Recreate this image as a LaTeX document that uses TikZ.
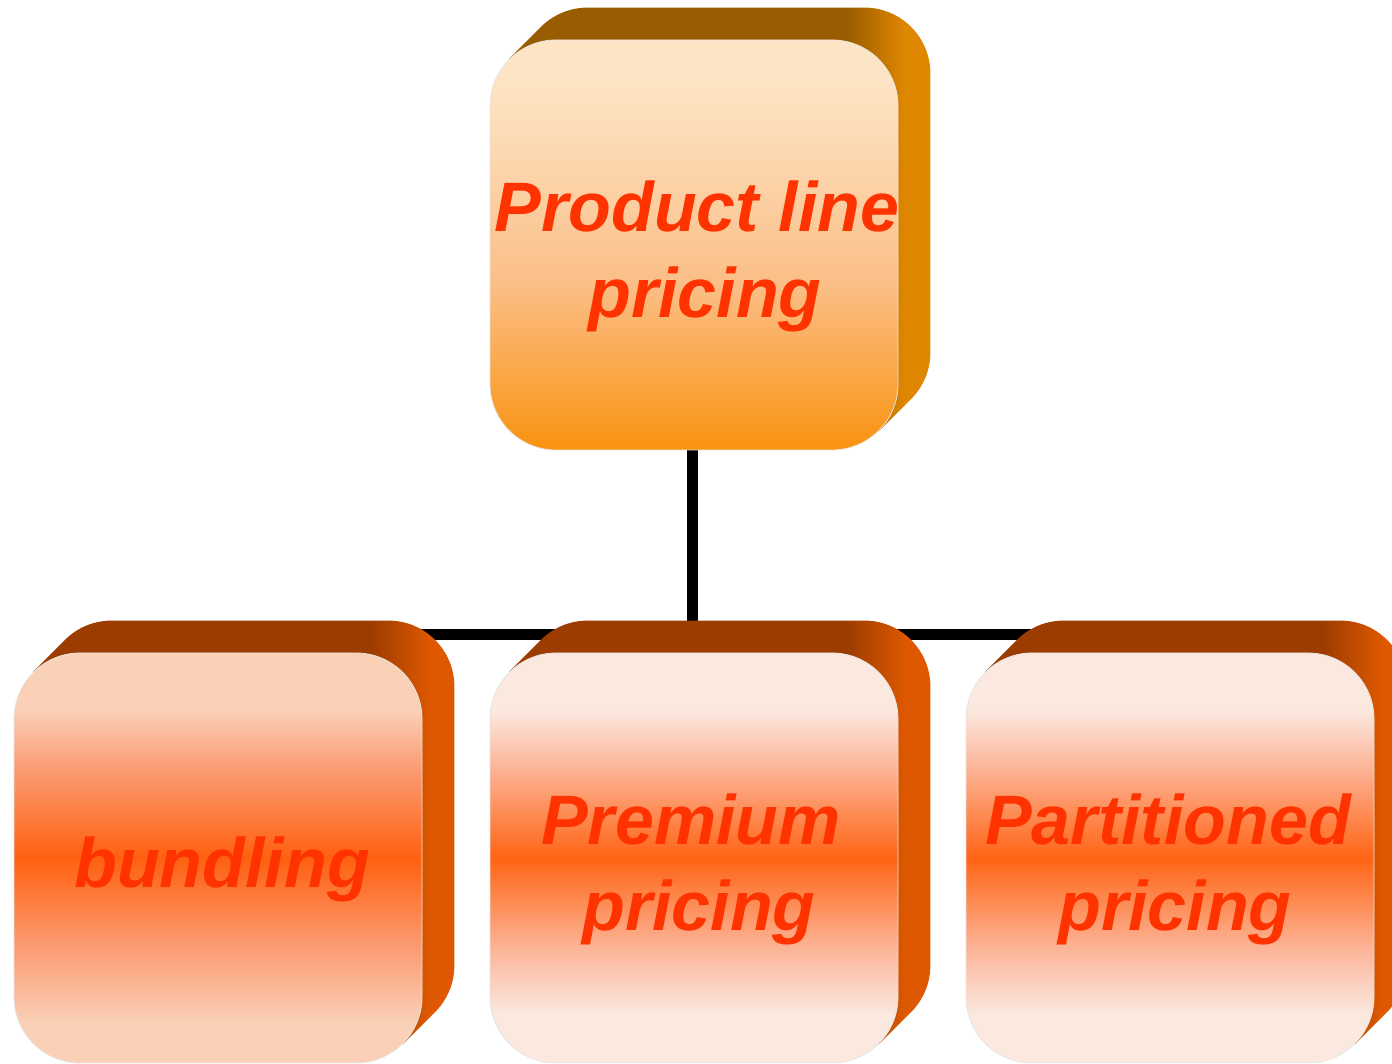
\documentclass[tikz,border=0pt]{standalone}
\usepackage{fontspec}
\setmainfont{Liberation Sans}
\usetikzlibrary{calc}
\definecolor{txt}{HTML}{FF3300}
% top box face
\definecolor{tfT}{HTML}{FDE4C4}
\definecolor{tfU}{HTML}{FCD9B2}
\definecolor{tfM}{HTML}{FBBE86}
\definecolor{tfB}{HTML}{F9920F}
% top box extrusion
\definecolor{teD}{HTML}{9A5C00}
\definecolor{teL}{HTML}{DF8700}
% bottom faces
\definecolor{bfL}{HTML}{FAD0B6}
\definecolor{bfQ}{HTML}{FB9C74}
\definecolor{bfD}{HTML}{FF6010}
\definecolor{pfL}{HTML}{FBE8DF}
\definecolor{pfQ}{HTML}{FCB497}
\definecolor{pfD}{HTML}{FF6414}
% bottom extrusion
\definecolor{beD}{HTML}{9C3C00}
\definecolor{beL}{HTML}{DD5800}
\pgfdeclareverticalshading{topface}{100bp}{color(0bp)=(tfB); color(25bp)=(tfB); color(45bp)=(tfM); color(62bp)=(tfU); color(70bp)=(tfT); color(100bp)=(tfT)}
\pgfdeclareverticalshading{bundface}{100bp}{color(0bp)=(bfL); color(25bp)=(bfL); color(30bp)=(bfL); color(39bp)=(bfQ); color(50bp)=(bfD); color(61bp)=(bfQ); color(68bp)=(bfL); color(100bp)=(bfL)}
\pgfdeclareverticalshading{paleface}{100bp}{color(0bp)=(pfL); color(25bp)=(pfL); color(31bp)=(pfL); color(39bp)=(pfQ); color(50bp)=(pfD); color(61bp)=(pfQ); color(68bp)=(pfL); color(100bp)=(pfL)}
\pgfdeclarehorizontalshading{topext}{100bp}{color(0bp)=(teD); color(25bp)=(teD); color(65bp)=(teD); color(72bp)=(teL); color(100bp)=(teL)}
\pgfdeclarehorizontalshading{botext}{100bp}{color(0bp)=(beD); color(25bp)=(beD); color(65bp)=(beD); color(72bp)=(beL); color(100bp)=(beL)}
\pgfdeclarelayer{bg}
\pgfdeclarelayer{mid}
\pgfsetlayers{bg,mid,main}
\newcommand\extrude[2]{%
  \begin{pgfonlayer}{mid}
    \shade[shading=#2] ($(#1.north west)+(19.33,-19.33)$) -- ++(32,32)
      arc[start angle=135,end angle=90,radius=66]
      -- ($(#1.north east)+(-34,32)$)
      arc[start angle=90,end angle=0,radius=66]
      -- ($(#1.south east)+(32,98)$)
      arc[start angle=0,end angle=-45,radius=66]
      -- ++(-32,-32) -- cycle;
  \end{pgfonlayer}}
\begin{document}
\begin{tikzpicture}[x=1pt,y=1pt,
  face/.style={rectangle, rounded corners=66, minimum width=408, minimum height=410,
    inner sep=0pt, draw=black!10, line width=0.8pt},
  lbl/.style={inner sep=0pt, align=center, text=txt,
    font=\fontsize{70}{86}\selectfont\bfseries\itshape},
  conn/.style={line width=11pt, black}]
\useasboundingbox (0,0) rectangle (1392,1064);
\clip (0,0) rectangle (1392,1064);
\node[face, shading=topface] (top) at (694,819) {};
\node[face, shading=bundface] (bund) at (218,206) {};
\node[face, shading=paleface] (prem) at (694,206) {};
\node[face, shading=paleface] (part) at (1170,206) {};
\node[lbl] (topt) at ($(top.center)+(3,-11)$) {Product line\\\hspace*{16pt}pricing};
\node[lbl] (bundt) at ($(bund.center)+(4,-11)$) {bundling};
\node[lbl] (premt) at ($(prem.center)+(-3,-11)$) {Premium\\\hspace*{16pt}pricing};
\node[lbl] (partt) at ($(part.center)+(-2,-11)$) {Partitioned\\\hspace*{14pt}pricing};
\extrude{top}{topext}
\extrude{bund}{botext}
\extrude{prem}{botext}
\extrude{part}{botext}
\coordinate (jn) at (692,429);
\begin{pgfonlayer}{bg}
  \draw[conn] (top.south -| jn) -- (jn);
  \draw[conn] (bund.center |- jn) -- (part.center |- jn);
\end{pgfonlayer}
\end{tikzpicture}
\end{document}
